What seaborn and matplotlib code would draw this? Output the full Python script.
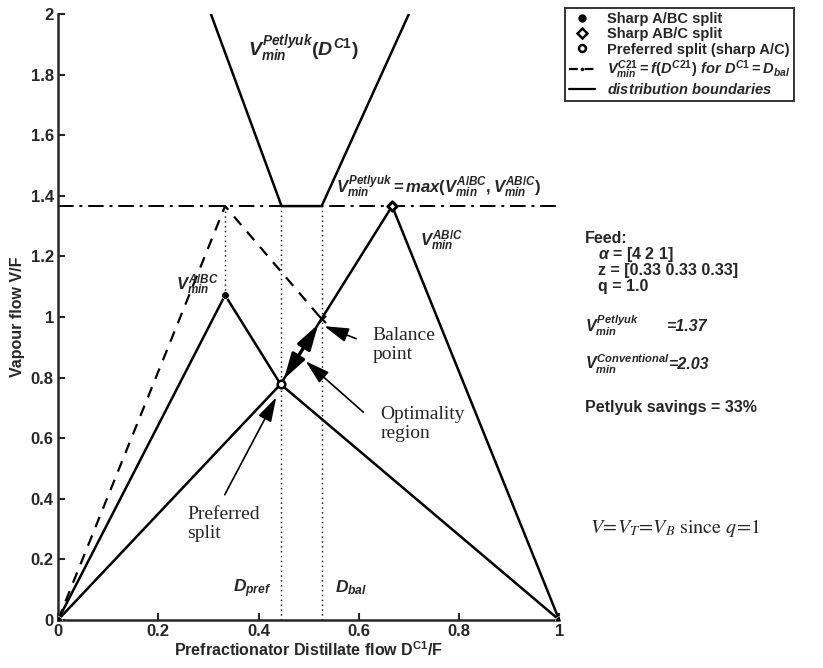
import pandas as pd
import seaborn as sns
import matplotlib.pyplot as plt
from matplotlib.lines import Line2D
from matplotlib.legend_handler import HandlerTuple

# key points of the Vmin diagram (alpha = [4 2 1], z = [1/3 1/3 1/3], q = 1)
d_abc, v_abc = 1 / 3, 1.072      # sharp A/BC
d_ab_c, v_ab_c = 2 / 3, 1.366    # sharp AB/C
d_pref, v_pref = 0.444, 0.778    # preferred split
d_bal, v_bal = 0.526, 0.993      # balance point
v_petlyuk = 1.366

# distribution boundaries
bound_a_x = [0, d_abc, d_pref, 1]
bound_a_y = [0, v_abc, v_pref, 0]
bound_b_x = [0, d_pref, d_ab_c, 1]
bound_b_y = [0, v_pref, v_ab_c, 0]

# Vmin Petlyuk as function of D^C1
pet_x = [0.305, 0.446, 0.526, 0.700]
pet_y = [2.0, v_petlyuk, v_petlyuk, 2.0]

# Vmin C21 for D^C1 = D_bal
c21_x = [0, d_abc, d_bal]
c21_y = [0, v_petlyuk, v_bal]

sns.set_style('ticks')
plt.rcParams['font.family'] = ['Liberation Sans', 'DejaVu Sans']
plt.rcParams['mathtext.fontset'] = 'custom'
plt.rcParams['mathtext.rm'] = 'Liberation Sans:bold'
plt.rcParams['mathtext.it'] = 'Liberation Sans:italic:bold'
plt.rcParams['mathtext.bf'] = 'Liberation Sans:bold'

fig = plt.figure(figsize=(8.23, 6.68), dpi=100)
ax = fig.add_axes([0.0705, 0.072, 0.609, 0.907])

df_bound = pd.DataFrame({
    'x': bound_a_x + bound_b_x,
    'y': bound_a_y + bound_b_y,
    'seg': ['a'] * 4 + ['b'] * 4,
})
sns.lineplot(data=df_bound, x='x', y='y', units='seg', estimator=None, sort=False,
             color='black', lw=1.8, ax=ax)
sns.lineplot(x=pet_x, y=pet_y, sort=False, estimator=None, color='black', lw=1.8, ax=ax)
sns.lineplot(x=c21_x, y=c21_y, sort=False, estimator=None, color='black', lw=1.6,
             linestyle=(0, (5, 4)), ax=ax)
ax.plot([0, 1], [v_petlyuk, v_petlyuk], color='black', lw=1.4, linestyle=(0, (8, 3, 1.5, 3)))

# dotted guide lines
dot = dict(color='black', lw=1.0, linestyle=(0, (1, 2.5)))
ax.plot([d_abc, d_abc], [v_abc, v_petlyuk], **dot)
ax.plot([d_pref, d_pref], [0, v_petlyuk], **dot)
ax.plot([d_bal, d_bal], [0, v_petlyuk], **dot)

# markers
sns.scatterplot(x=[d_abc, 0, 1], y=[v_abc, 0, 0], color='black', s=30, ax=ax, zorder=5)
sns.scatterplot(x=[d_ab_c], y=[v_ab_c], marker='D', facecolor='white', edgecolor='black',
                linewidth=2.2, s=22, ax=ax, zorder=5)
sns.scatterplot(x=[d_pref], y=[v_pref], marker='o', facecolor='white', edgecolor='black',
                linewidth=1.8, s=30, ax=ax, zorder=5)
sns.scatterplot(x=[d_bal], y=[v_bal], marker='x', color='black', linewidth=1.5, s=25,
                ax=ax, zorder=5)

ax.set_xlim(0, 1)
ax.set_ylim(0, 2)
ax.set_xticks([0, 0.2, 0.4, 0.6, 0.8, 1])
ax.set_xticklabels(['0', '0.2', '0.4', '0.6', '0.8', '1'], fontweight='bold')
ax.set_yticks([0, 0.2, 0.4, 0.6, 0.8, 1, 1.2, 1.4, 1.6, 1.8, 2])
ax.set_yticklabels(['0', '0.2', '0.4', '0.6', '0.8', '1', '1.2', '1.4', '1.6', '1.8', '2'],
                   fontweight='bold')
ax.tick_params(direction='in', length=5, width=1.5, labelsize=12, pad=3)
for side in ['left', 'bottom']:
    ax.spines[side].set_linewidth(1.8)
sns.despine(ax=ax)
ax.set_xlabel(r'Prefractionator Distillate flow D$^{\mathrm{C1}}$/F', fontsize=11.5,
              fontweight='bold', labelpad=1)
ax.set_ylabel('Vapour flow V/F', fontsize=11.5, fontweight='bold', labelpad=4)

# curve labels
ax.text(0.49, 1.86, r'$V^{Petlyuk}_{min}(D^{C1})$', fontsize=14, ha='center')
ax.text(0.555, 1.41, r'$V^{Petlyuk}_{min}=max(V^{A/BC}_{min},V^{AB/C}_{min})$',
        fontsize=12, ha='left')
ax.text(0.722, 1.235, r'$V^{AB/C}_{min}$', fontsize=12)
ax.text(0.235, 1.09, r'$V^{A/BC}_{min}$', fontsize=12)
ax.text(0.425, 0.09, r'$D_{pref}$', fontsize=12.5, ha='right')
ax.text(0.553, 0.09, r'$D_{bal}$', fontsize=12.5, ha='left')

# annotations with arrows
serif = dict(family=['Liberation Serif', 'DejaVu Serif'], fontsize=14)
head = '-|>,head_width=0.22,head_length=0.75'
ax.annotate('', xy=(d_bal, v_bal - 0.02), xytext=(0.60, 0.925),
            arrowprops=dict(arrowstyle=head, color='black', lw=1.2, mutation_scale=20))
ax.text(0.628, 0.86, 'Balance\npoint', linespacing=1.15, **serif)
ax.annotate('', xy=(0.49, 0.86), xytext=(0.613, 0.68),
            arrowprops=dict(arrowstyle=head, color='black', lw=1.2, mutation_scale=20))
ax.text(0.643, 0.60, 'Optimality\nregion', linespacing=1.15, **serif)
ax.annotate('', xy=(d_bal - 0.004, v_bal - 0.01), xytext=(d_pref + 0.004, v_pref + 0.01),
            arrowprops=dict(arrowstyle='<|-|>,head_width=0.22,head_length=0.75',
                            color='black', lw=2.4, mutation_scale=20))
ax.annotate('', xy=(d_pref - 0.006, v_pref - 0.035), xytext=(0.33, 0.405),
            arrowprops=dict(arrowstyle=head, color='black', lw=1.2, mutation_scale=20))
ax.text(0.258, 0.27, 'Preferred\nsplit', linespacing=1.15, **serif)

# legend
h_dot = Line2D([], [], ls='none', marker='o', color='black', markersize=5)
h_dia = Line2D([], [], ls='none', marker='D', markerfacecolor='white',
               markeredgecolor='black', markeredgewidth=1.8, markersize=5)
h_circ = Line2D([], [], ls='none', marker='o', markerfacecolor='white',
                markeredgecolor='black', markeredgewidth=1.8, markersize=5)
h_pt = Line2D([], [], ls='none', marker='.', color='black', markersize=3)
h_dash = Line2D([], [], color='black', lw=1.6, linestyle=(0, (4, 3)))
h_solid = Line2D([], [], color='black', lw=1.6)
leg = fig.legend(
    [h_dot, h_dia, h_circ, (h_pt, h_dash), h_solid],
    ['Sharp A/BC split', 'Sharp AB/C split', 'Preferred split (sharp A/C)',
     r'$V^{C21}_{min}=f(D^{C21})\ for\ D^{C1}=D_{bal}$',
     r'$distribution\ boundaries$'],
    handler_map={tuple: HandlerTuple(ndivide=1)},
    loc='upper left', bbox_to_anchor=(565 / 823, 1 - 8 / 668),
    prop={'size': 10.5, 'weight': 'bold'}, frameon=True, fancybox=False,
    edgecolor='black', handlelength=1.8, handletextpad=0.8, borderpad=0.25,
    labelspacing=0.1, borderaxespad=0)
leg.get_frame().set_linewidth(1.4)

# feed information
fs = 11.5
fig.text(585 / 823, 1 - 243 / 668, 'Feed:', fontsize=fs, fontweight='bold')
fig.text(598 / 823, 1 - 259 / 668, r'$\alpha$ = [4 2 1]', fontsize=fs, fontweight='bold')
fig.text(598 / 823, 1 - 275 / 668, 'z = [0.33 0.33 0.33]', fontsize=fs, fontweight='bold')
fig.text(598 / 823, 1 - 291 / 668, 'q = 1.0', fontsize=fs, fontweight='bold')
fig.text(585 / 823, 1 - 331 / 668, r'$V^{Petlyuk}_{min}$', fontsize=fs)
fig.text(666 / 823, 1 - 331 / 668, '=1.37', fontsize=fs, fontstyle='italic',
         fontweight='bold')
fig.text(585 / 823, 1 - 369 / 668, r'$V^{Conventional}_{min}$', fontsize=fs)
fig.text(668 / 823, 1 - 369 / 668, '=2.03', fontsize=fs, fontstyle='italic',
         fontweight='bold')
fig.text(585 / 823, 1 - 412 / 668, 'Petlyuk savings = 33%', fontsize=fs, fontweight='bold')
fig.text(590 / 823, 1 - 533 / 668, r'$V\!=\!V_T\!=\!V_B\ \mathrm{since}\ q\!=\!1$',
         fontsize=14.5, math_fontfamily='stix')

fig.savefig('out.png', dpi=100)
